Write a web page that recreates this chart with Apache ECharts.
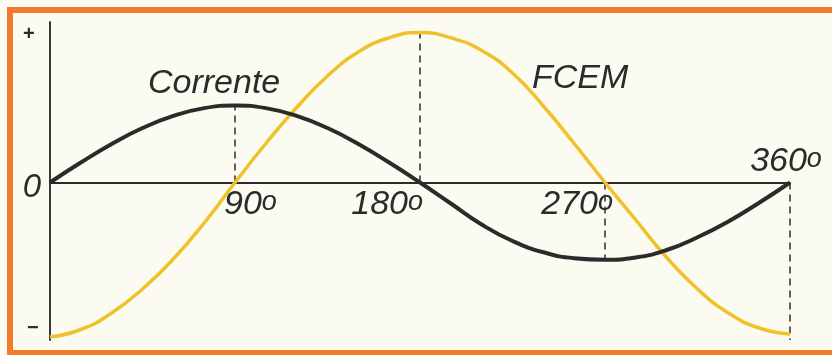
<!DOCTYPE html>
<html>
<head>
<meta charset="utf-8">
<script src="https://cdn.jsdelivr.net/npm/echarts@6/dist/echarts.min.js"></script>
<style>
  html, body { margin: 0; padding: 0; background: #fcfbf2; }
  #chart { width: 832px; height: 355px; }
</style>
</head>
<body>
<div id="chart"></div>
<script>
// Phase angle in degrees, one sample every 15°
const angles = [0, 15, 30, 45, 60, 75, 90, 105, 120, 135, 150, 165, 180,
                195, 210, 225, 240, 255, 270, 285, 300, 315, 330, 345, 360];

// Current through the coil (relative amplitude)
const corrente = [0, 0.133, 0.257, 0.363, 0.444, 0.496, 0.513, 0.496, 0.444, 0.363, 0.257, 0.133, 0,
                  -0.14, -0.28, -0.39, -0.465, -0.505, -0.515, -0.50, -0.45, -0.365, -0.26, -0.135, 0];

// Counter-electromotive force (relative amplitude)
const fcem = [-1.03, -0.98, -0.87, -0.71, -0.51, -0.27, 0, 0.26, 0.50, 0.71, 0.87, 0.965, 1.0,
              0.965, 0.88, 0.73, 0.51, 0.26, 0, -0.25, -0.50, -0.71, -0.87, -0.97, -1.01];

// Angle marks on the horizontal axis
const tickAngles = [90, 180, 270, 360];
const tickLabels = ['90', '180', '270', '360'];

const seriesNames = ['Corrente', 'FCEM'];

const Y_MIN = -1.05, Y_MAX = 1.07;
const INK = '#2b2b2b';
const FONT = '"Liberation Sans", Arial, sans-serif';

const pairs = (xs, ys) => xs.map((x, i) => [x, ys[i]]);
const valueAt = (arr, deg) => arr[angles.indexOf(deg)];

// Dashed guides: from the axis up/down to the curve they refer to
const guideEnds = [
  valueAt(corrente, 90),
  valueAt(fcem, 180),
  valueAt(corrente, 270),
  Y_MIN
];
const guideSeries = tickAngles.map((deg, i) => ({
  type: 'line',
  silent: true,
  symbol: 'none',
  z: 1,
  data: [[deg, 0], [deg, guideEnds[i]]],
  lineStyle: { color: INK, width: 1.5, type: [7, 5] }
}));

// Placement of each angle label around its tick
const tickLabelLayout = [
  { align: 'left',   verticalAlign: 'top',    offset: [-11, 6] },
  { align: 'right',  verticalAlign: 'top',    offset: [3, 6] },
  { align: 'right',  verticalAlign: 'top',    offset: [8, 6] },
  { align: 'center', verticalAlign: 'bottom', offset: [-4, -5] }
];

const degRich = {
  d: { fontSize: 34, lineHeight: 32, fontStyle: 'italic', fontFamily: FONT, color: INK },
  o: { fontSize: 27, lineHeight: 22, fontStyle: 'italic', fontFamily: FONT, color: INK, verticalAlign: 'top' }
};

const tickLabelData = tickAngles.map((deg, i) => ({
  value: [deg, 0],
  label: {
    show: true,
    position: 'inside',
    formatter: '{d|' + tickLabels[i] + '}{o|o}',
    rich: degRich,
    align: tickLabelLayout[i].align,
    verticalAlign: tickLabelLayout[i].verticalAlign,
    offset: tickLabelLayout[i].offset
  }
}));

const chart = echarts.init(document.getElementById('chart'), null, { renderer: 'canvas' });

chart.setOption({
  backgroundColor: '#fcfbf2',
  animation: false,
  grid: { left: 50, top: 22, width: 740, height: 318, containLabel: false },
  xAxis: {
    type: 'value', min: 0, max: 360,
    axisLine: { show: true, onZero: true, lineStyle: { color: INK, width: 2 } },
    axisTick: { show: false }, axisLabel: { show: false }, splitLine: { show: false }
  },
  yAxis: {
    type: 'value', min: Y_MIN, max: Y_MAX,
    axisLine: { show: true, lineStyle: { color: '#3a3a3a', width: 2 } },
    axisTick: { show: false }, axisLabel: { show: false }, splitLine: { show: false }
  },
  series: [
    ...guideSeries,
    {
      name: seriesNames[1],
      type: 'line',
      smooth: 0.5,
      symbol: 'none',
      z: 2,
      data: pairs(angles, fcem),
      lineStyle: { color: '#f0c229', width: 3.5 }
    },
    {
      name: seriesNames[0],
      type: 'line',
      smooth: 0.5,
      symbol: 'none',
      z: 3,
      data: pairs(angles, corrente),
      lineStyle: { color: INK, width: 4 }
    },
    {
      type: 'scatter',
      symbolSize: 0,
      silent: true,
      z: 5,
      itemStyle: { opacity: 1 },
      data: tickLabelData
    },
    {
      // origin label
      type: 'scatter',
      symbolSize: 0,
      silent: true,
      z: 5,
      itemStyle: { opacity: 1 },
      data: [{
        value: [0, 0],
        label: {
          show: true, position: 'inside', formatter: '0',
          align: 'right', verticalAlign: 'middle', offset: [-9, 5],
          fontSize: 33, fontStyle: 'italic', fontFamily: FONT, color: INK
        }
      }]
    }
  ],
  graphic: [
    {
      type: 'rect', silent: true, z: 100,
      shape: { x: 10, y: 10, width: 840, height: 343 },
      style: { fill: 'none', stroke: '#f47b2a', lineWidth: 6 }
    },
    {
      type: 'text', left: 148, top: 67, z: 50,
      style: { text: seriesNames[0], font: 'italic 34px ' + FONT, fill: INK }
    },
    {
      type: 'text', left: 532, top: 62, z: 50,
      style: { text: seriesNames[1], font: 'italic 34px ' + FONT, fill: INK }
    },
    {
      type: 'text', left: 23, top: 24, z: 50,
      style: { text: '+', font: 'bold 20px ' + FONT, fill: INK }
    },
    {
      type: 'text', left: 27, top: 318, z: 50,
      style: { text: '\u2212', font: 'bold 20px ' + FONT, fill: INK }
    }
  ]
});
</script>
</body>
</html>
